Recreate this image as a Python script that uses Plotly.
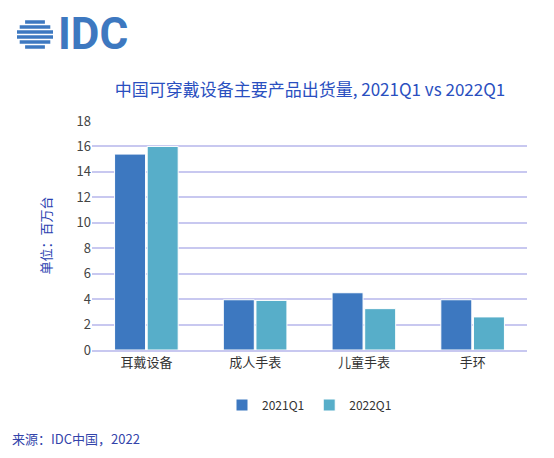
import plotly.graph_objects as go

categories = ['耳戴设备', '成人手表', '儿童手表', '手环']
q2021 = [15.4, 3.95, 4.5, 3.95]
q2022 = [16.0, 3.9, 3.25, 2.6]
y_ticks = [0, 2, 4, 6, 8, 10, 12, 14, 16, 18]

W, H = 554, 458
OFF = 8
L, T, R, B = 92 - OFF, 121 - OFF, 27 + OFF, 108 + OFF
PW, PH = W - L - R, H - T - B


def px(x):
    return (x - OFF - L) / PW


def py(y):
    return (H - B - (y - OFF)) / PH


fig = go.Figure()
fig.add_bar(x=categories, y=q2021, name='2021Q1', marker=dict(color='#3d78c0', line=dict(color='white', width=1)))
fig.add_bar(x=categories, y=q2022, name='2022Q1', marker=dict(color='#57aec9', line=dict(color='white', width=1)))

# IDC globe logo: stripes of varying width
stripes = [(6, 0.55), (11, 0.85), (16, 1.0), (21, 1.0), (26, 0.85), (31, 0.55)]
cx, r = 35, 18
for dy, w in stripes:
    y = 16 + dy
    fig.add_shape(type='line', xref='paper', yref='paper',
                  x0=px(cx - r * w), x1=px(cx + r * w), y0=py(y), y1=py(y),
                  line=dict(color='#3d78c0', width=3.5))
fig.add_annotation(text='<b>IDC</b>', x=px(56), y=py(34), xref='paper', yref='paper',
                   xanchor='left', yanchor='middle', showarrow=False,
                   font=dict(size=44, color='#3d78c0', family='Roboto'))

fig.add_annotation(text='来源：IDC中国，2022', x=px(10), y=py(438), xref='paper', yref='paper',
                   xanchor='left', yanchor='middle', showarrow=False,
                   font=dict(size=13, color='#3344aa'))

fig.update_layout(
    width=W, height=H,
    margin=dict(l=L, r=R, t=T, b=B),
    plot_bgcolor='white', paper_bgcolor='white',
    font=dict(family='Noto Sans CJK SC', size=12, color='#333333'),
    title=dict(text='中国可穿戴设备主要产品出货量, 2021Q1 vs 2022Q1', x=(310 - OFF) / W, xanchor='center',
               y=1 - (90 - OFF) / H, yanchor='middle', font=dict(size=17, color='#2a4fc0')),
    bargap=0.4, bargroupgap=0.05,
    yaxis=dict(range=[0, 18], tickvals=y_ticks, gridcolor='#c8c8f0', gridwidth=1.5,
               zeroline=False, ticks='', tickfont=dict(size=13, color='#444444'),
               title=dict(text='单位：百万台', font=dict(size=13, color='#2a3fb0'), standoff=22)),
    xaxis=dict(showline=True, linecolor='#c8c8f0', linewidth=1.5, tickfont=dict(size=13, color='#333333')),
    legend=dict(orientation='h', x=0.5, xanchor='center', y=1 - (405 - OFF) / H, yref='container',
                yanchor='middle', font=dict(size=12), itemwidth=30),
)
fig.write_html('out.html')
